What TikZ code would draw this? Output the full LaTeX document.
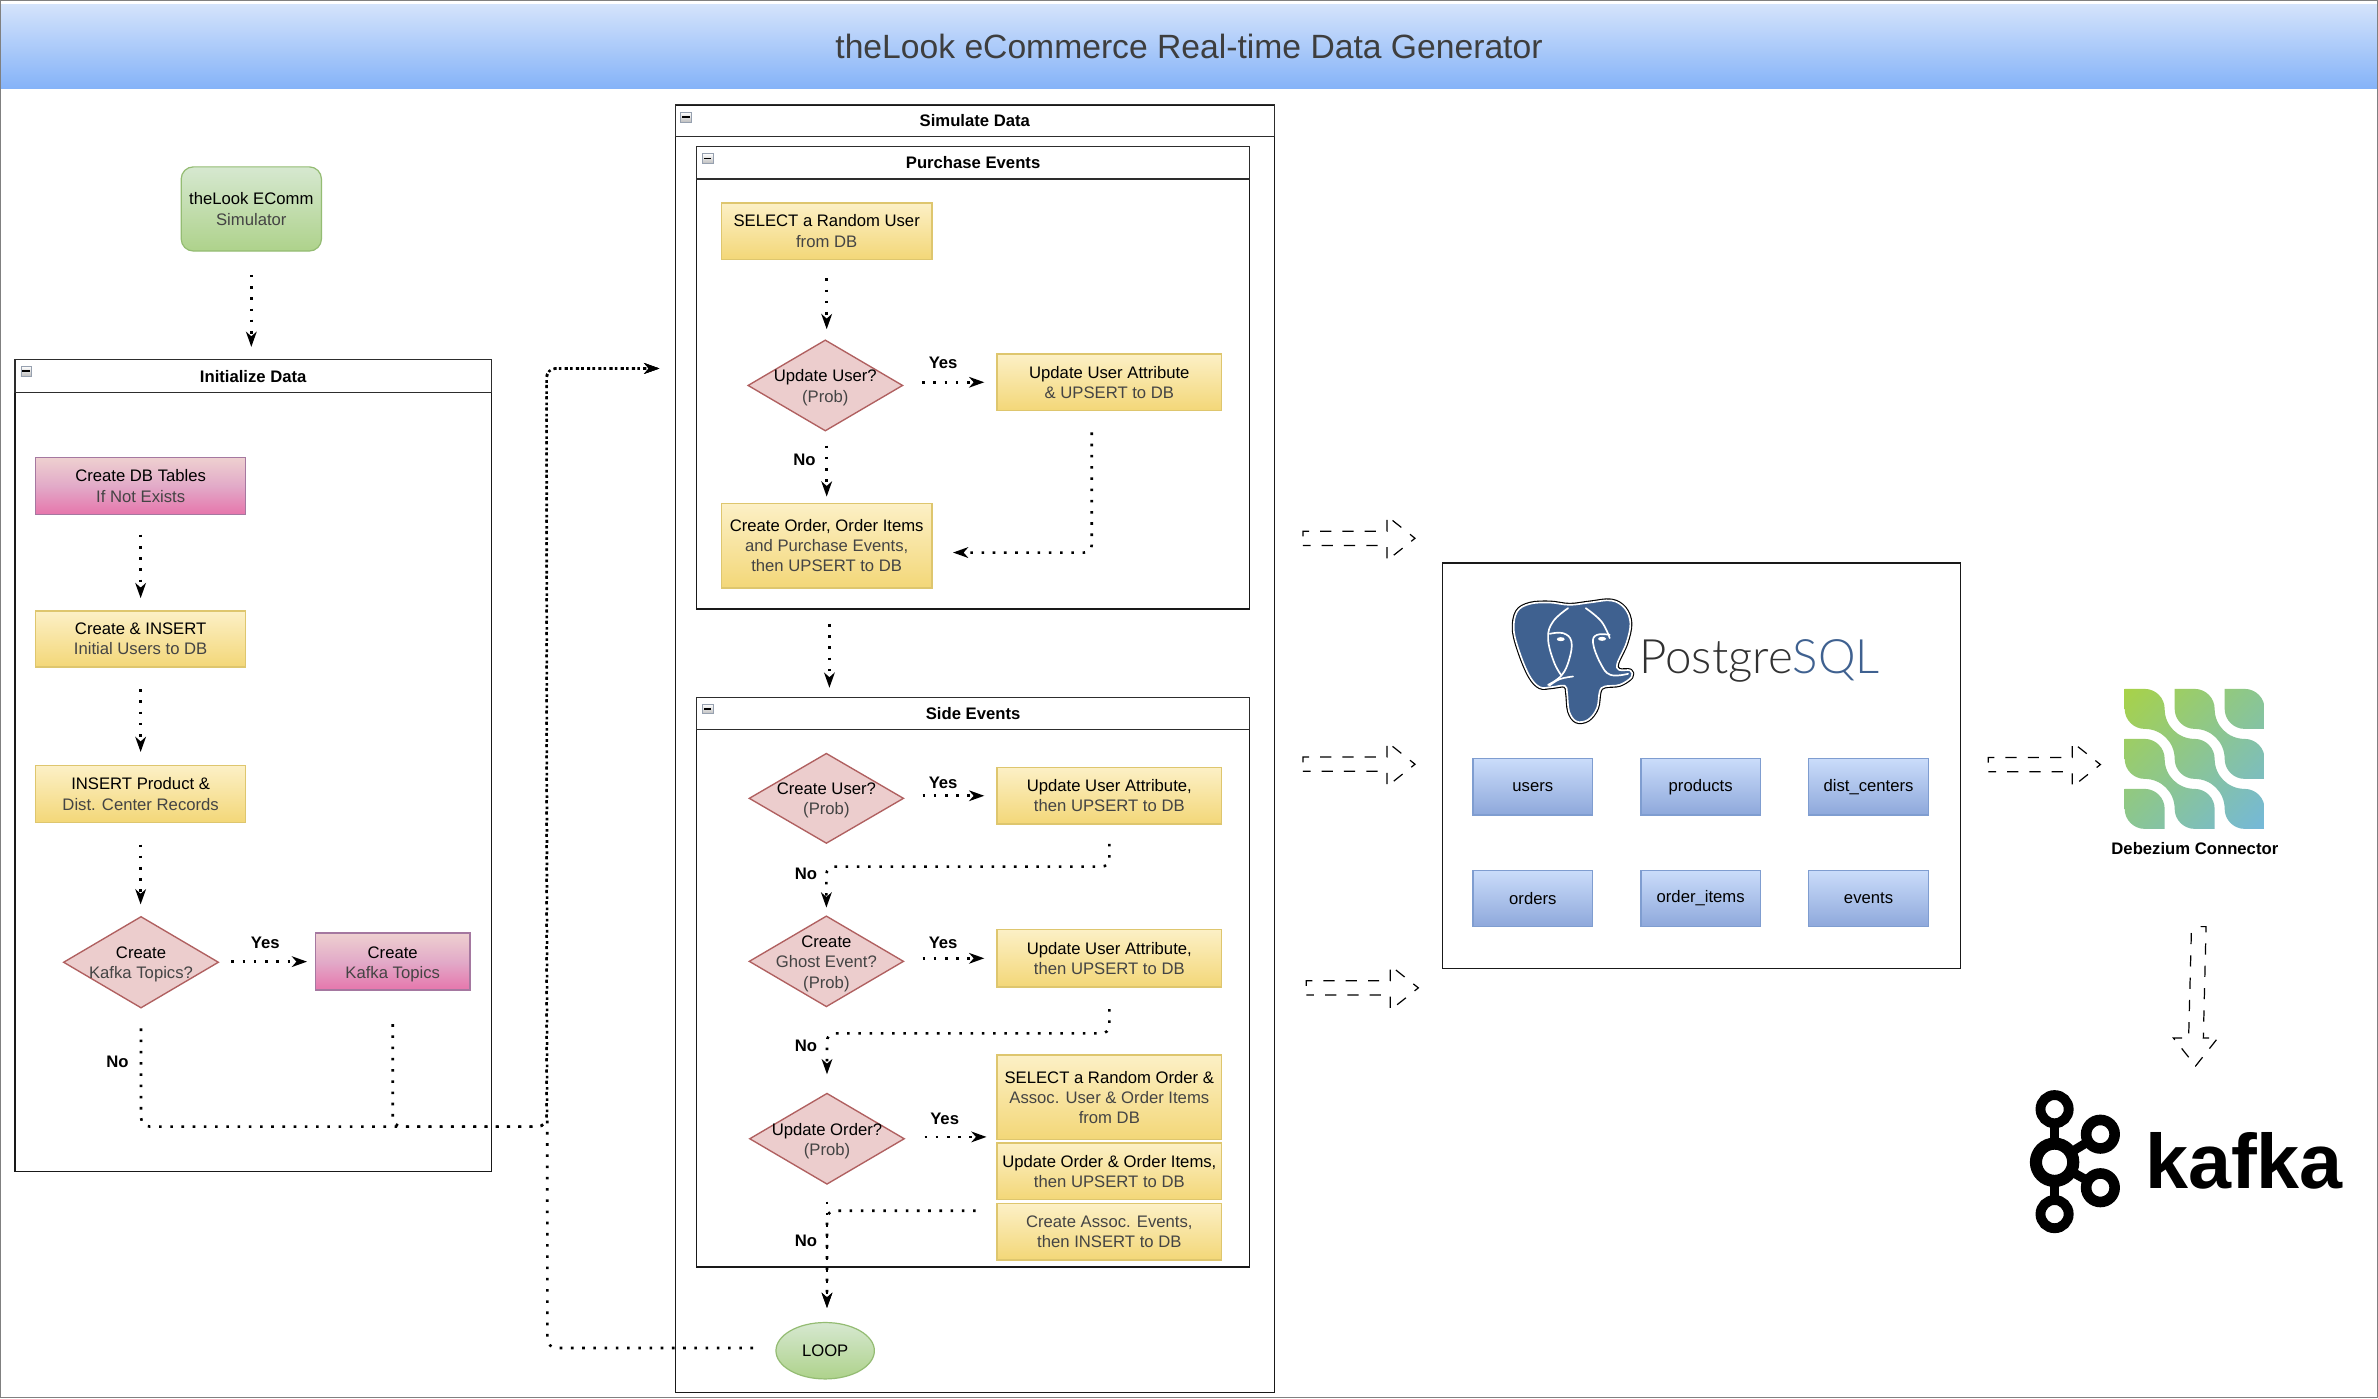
\documentclass[tikz,border=0pt]{standalone}
\usepackage{fontspec}
\setmainfont{Liberation Sans}
\newfontfamily\pglight{Lato Light}
\usetikzlibrary{arrows.meta,shapes.geometric,calc,shadings}
\definecolor{txtgr}{HTML}{444444}
\definecolor{pgblue}{HTML}{3F6190}
\definecolor{ydraw}{HTML}{DEC66E}
\definecolor{ytop}{HTML}{FCF0C6}
\definecolor{ybot}{HTML}{F3D778}
\definecolor{pdraw}{HTML}{A578A0}
\definecolor{ptop}{HTML}{EED0D0}
\definecolor{pmid}{HTML}{E2AAC8}
\definecolor{pbot}{HTML}{E676AC}
\definecolor{bdraw}{HTML}{7F9DD0}
\definecolor{btop}{HTML}{CADCFA}
\definecolor{bbot}{HTML}{8EA8DB}
\definecolor{gdraw}{HTML}{94BC73}
\definecolor{gtop}{HTML}{D6E8D0}
\definecolor{gbot}{HTML}{AED28B}
\definecolor{ddraw}{HTML}{B06060}
\definecolor{dfill}{HTML}{ECCDCD}
\definecolor{ldraw}{HTML}{191919}
\definecolor{hdraw}{HTML}{2D2D2D}
\definecolor{cdraw}{HTML}{96A0AF}
\definecolor{cbot}{HTML}{BEBEBE}
\definecolor{titletop}{HTML}{D4E3FB}
\definecolor{titlebot}{HTML}{85B3F8}
\definecolor{titletxt}{HTML}{3E3E3E}
\definecolor{pgtxt}{HTML}{323232}
\definecolor{dbul}{HTML}{A8D248}
\definecolor{dbmid}{HTML}{8AC692}
\definecolor{dblr}{HTML}{74B8DA}
\newcommand{\secl}[1]{\textcolor{txtgr}{#1}}
\newcommand{\dt}[1]{\raisebox{-.4em}[0pt][0pt]{\makebox[0pt]{\begin{tabular}{@{}c@{}}#1\end{tabular}}}}
\newcommand{\ha}[2]{\draw[holarrow] (#1,#2) -- ++(0,-9.4) -- ++(55.4,0) -- ++(0,-10) -- ++(18.5,14.7) -- ++(-18.5,14.7) -- ++(0,-10) -- cycle;}
\newcommand{\leafTR}{.. controls +(33,0) and +(0,-33) .. ++(60,60)}
\newcommand{\leafBL}{.. controls +(-33,0) and +(0,33) .. ++(-60,-60)}
\newcommand{\bandD}{.. controls +(0,50) and +(-50,0) .. ++(90,90)}
\newcommand{\bandU}{.. controls +(0,-50) and +(50,0) .. ++(-90,-90)}
\tikzset{
  every node/.style={font=\fontsize{11}{13.3}\selectfont,inner sep=0pt,align=center},
  yb/.style={draw=ydraw,line width=1pt,top color=ytop,bottom color=ybot},
  pb/.style={draw=pdraw,line width=1pt,top color=ptop,bottom color=pbot,middle color=pmid},
  bb/.style={draw=bdraw,line width=1pt,top color=btop,bottom color=bbot},
  gb/.style={draw=gdraw,line width=.8pt,top color=gtop,bottom color=gbot},
  dia/.style={diamond,draw=ddraw,line width=.9pt,fill=dfill},
  lane/.style={draw=ldraw,line width=.9pt},
  laneh/.style={draw=hdraw,line width=.9pt,font=\fontsize{11}{13.3}\selectfont\bfseries},
  coll/.style={draw=cdraw,line width=.5pt,top color=white,bottom color=cbot,minimum width=6.8pt,minimum height=6.5pt,
     path picture={\draw[black,line width=1pt] ([xshift=1pt]path picture bounding box.west) -- ([xshift=-1pt]path picture bounding box.east);}},
  lbl/.style={font=\fontsize{11}{13.3}\selectfont\bfseries},
  dotline/.style={black,line width=1.7pt,dash pattern=on 1.7pt off 5.7pt},
  flow/.style={dotline,-{Stealth[length=10pt,width=7pt,inset=3pt]}},
  holarrow/.style={black,line width=.8pt,dash pattern=on 7.4pt off 7.3pt,dash phase=8.7pt}
}
\begin{document}
\begin{tikzpicture}[x=1pt,y=-1pt]
\useasboundingbox (0,0) rectangle (1568.3,922);
\fill[white] (0,0) rectangle (1568.3,922);
% title band and page frame
\node[minimum width=1568.3pt,minimum height=55.3pt,top color=titletop,bottom color=titlebot,font=\fontsize{22.2}{26}\selectfont,text=titletxt] (title) at (784.15,30.4) {theLook eCommerce Real-time Data Generator};
\draw[gray,line width=.8pt] (.4,.4) rectangle (1567.9,921.5);

% --- Simulator and Initialize Data
\node[gb,rounded corners=8pt,minimum width=92.5pt,minimum height=55.5pt] (sim) at (165.75,137.8) {theLook EComm\\\secl{Simulator}};
\node[lane,minimum width=314pt,minimum height=535.5pt] (init) at (167,505) {};
\node[laneh,minimum width=314pt,minimum height=21.5pt] (inith) at (167,248) {Initialize Data};
\node[coll] (initc) at (17.2,244.8) {};
\node[pb,minimum width=138.5pt,minimum height=37.3pt] (cdb) at (92.75,320.5) {Create DB Tables\\\secl{If Not Exists}};
\node[yb,minimum width=138.5pt,minimum height=37pt] (cin) at (92.75,421.5) {Create \& INSERT\\\secl{Initial Users to DB}};
\node[yb,minimum width=138.5pt,minimum height=37.5pt] (ipr) at (92.75,523.7) {INSERT Product \&\\\secl{Dist. Center Records}};
\node[dia,minimum width=102.4pt,minimum height=60.4pt] (kd) at (93,634.6) {\dt{Create\\\secl{Kafka Topics?}}};
\node[pb,minimum width=102pt,minimum height=37.5pt] (kb) at (259,634.2) {\dt{Create\\\secl{Kafka Topics}}};
\node[lbl] (ykd) at (175,622) {Yes};
\node[lbl] (nkd) at (77.5,700) {No};

% --- Simulate Data
\node[lane,minimum width=395.2pt,minimum height=849.3pt] (simu) at (642.9,493.8) {};
\node[laneh,minimum width=395.2pt,minimum height=21pt] (simuh) at (642.9,79.6) {Simulate Data};
\node[coll] (simuc) at (452.4,77.2) {};

% --- Purchase Events
\node[lane,minimum width=364.9pt,minimum height=304.9pt] (pe) at (641.75,249.2) {};
\node[laneh,minimum width=364.9pt,minimum height=21.3pt] (peh) at (641.75,107.4) {Purchase Events};
\node[coll] (pec) at (466.8,104.5) {};
\node[yb,minimum width=139pt,minimum height=37.3pt] (sel) at (545.2,152.4) {SELECT a Random User\\\secl{from DB}};
\node[dia,minimum width=102.2pt,minimum height=60.1pt] (du) at (544.3,254.2) {\dt{Update User?\\\secl{(Prob)}}};
\node[yb,minimum width=147.9pt,minimum height=37.4pt] (ua) at (731.6,252.1) {Update User Attribute\\\secl{\& UPSERT to DB}};
\node[yb,minimum width=139pt,minimum height=55.8pt] (co) at (545.2,359.9) {Create Order, Order Items\\\secl{and Purchase Events,}\\\secl{then UPSERT to DB}};
\node[lbl] (yu) at (622,239) {Yes};
\node[lbl] (nu) at (530.5,303) {No};

% --- Side Events
\node[lane,minimum width=364.9pt,minimum height=375.5pt] (se) at (641.75,647.8) {};
\node[laneh,minimum width=364.9pt,minimum height=21.3pt] (seh) at (641.75,470.6) {Side Events};
\node[coll] (sec) at (466.8,467.5) {};
\node[dia,minimum width=102pt,minimum height=59.5pt] (dc) at (545,526.5) {\dt{Create User?\\\secl{(Prob)}}};
\node[yb,minimum width=147.9pt,minimum height=37.5pt] (ub) at (731.6,524.8) {Update User Attribute,\\\secl{then UPSERT to DB}};
\node[dia,minimum width=102pt,minimum height=60pt] (dg) at (545,634) {\dt{Create\\\secl{Ghost Event?}\\\secl{(Prob)}}};
\node[yb,minimum width=147.9pt,minimum height=38pt] (ug) at (731.6,632) {Update User Attribute,\\\secl{then UPSERT to DB}};
\node[dia,minimum width=102.2pt,minimum height=60.1pt] (dor) at (545.4,751) {\dt{Update Order?\\\secl{(Prob)}}};
\node[yb,minimum width=147.9pt,minimum height=55.7pt] (uoa) at (731.6,723.6) {SELECT a Random Order \&\\\secl{Assoc. User \& Order Items}\\\secl{from DB}};
\node[yb,minimum width=147.9pt,minimum height=37.2pt] (uob) at (731.6,772.4) {Update Order \& Order Items,\\\secl{then UPSERT to DB}};
\node[yb,minimum width=147.9pt,minimum height=37pt] (uoc) at (731.6,812.3) {\secl{Create Assoc. Events,}\\\secl{then INSERT to DB}};
\node[gb,ellipse,minimum width=64.9pt,minimum height=37.2pt] (loop) at (544.2,890.8) {LOOP};
\node[lbl] (yc) at (622,516) {Yes};
\node[lbl] (ng) at (531.5,576.5) {No};
\node[lbl] (yg) at (622,622) {Yes};
\node[lbl] (no) at (531.5,690) {No};
\node[lbl] (yo) at (623,738) {Yes};
\node[lbl] (nl) at (531.5,818) {No};

% --- connectors: initialise
\draw[flow,shorten <=15.3pt,shorten >=8pt] (sim.south) -- (sim.south |- init.north);
\draw[flow,shorten <=13pt,shorten >=8pt] (cdb.south) -- (cin.north);
\draw[flow,shorten <=14pt,shorten >=8.5pt] (cin.south) -- (ipr.north);
\draw[flow,shorten <=14pt,shorten >=7.5pt] (ipr.south) -- (ipr.south |- kd.north);
\draw[flow,shorten <=8pt,shorten >=5pt] (kd.east |- kb.west) -- (kb.west);
\coordinate (busturn) at (360.5,743);
\coordinate (buslift) at (360.5,243);
\draw[flow,rounded corners=6pt,shorten <=13pt,shorten >=10pt] (kd.south) |- (busturn) -- (buslift) -- (simu.west |- buslift);
\draw[flow,rounded corners=6pt,shorten <=22pt,shorten >=10pt] (kb.south) |- (busturn) -- (buslift) -- (simu.west |- buslift);
\coordinate (loopturn) at (361,889);
\draw[flow,rounded corners=6pt,shorten <=14.7pt,shorten >=10pt] ([yshift=1.8pt]loop.west) -- (loopturn) -- (buslift) -- (simu.west |- buslift);

% --- connectors: purchase events
\draw[flow,shorten <=12pt,shorten >=6.6pt] (sel.south) -- (sel.south |- du.north);
\draw[flow,shorten <=12.3pt,shorten >=8pt] (du.east |- ua.west) -- (ua.west);
\draw[flow,shorten <=9.2pt,shorten >=4pt] (du.south -| co.north) -- (co.north);
\draw[flow,rounded corners=5pt,shorten <=13.9pt,shorten >=13.3pt] ([xshift=-11.6pt]ua.south) |- ([yshift=-4.5pt]co.east);
\draw[flow,shorten <=9.4pt,shorten >=6pt] ([xshift=1.8pt]co.south |- pe.south) -- ([xshift=1.8pt]co.south |- se.north);

% --- connectors: side events
\draw[flow,shorten <=12pt,shorten >=8pt] (dc.east |- ub.west) -- (ub.west);
\draw[flow,rounded corners=5pt,shorten <=12.5pt,shorten >=5pt] (ub.south) -- ++(0,27.5) -| (dg.north);
\draw[flow,shorten <=12pt,shorten >=8pt] (dg.east |- ug.west) -- (ug.west);
\draw[flow,rounded corners=5pt,shorten <=14pt,shorten >=12pt] (ug.south) -- ++(0,30) -| (dor.north);
\draw[flow,shorten <=12.8pt,shorten >=6.5pt] ([yshift=1.2pt]dor.east) -- ([yshift=1.2pt]uoa.west |- dor.east);
\draw[flow,shorten <=11pt,shorten >=9.2pt] (dor.south) -- (dor.south |- loop.north);
\draw[flow,rounded corners=5pt,shorten <=13.7pt,shorten >=9.2pt] ([yshift=13.8pt]uoc.west) -| (dor.south |- loop.north);

% --- hollow dashed arrows
\ha{859.3}{359.7}
\ha{859.3}{508.7}
\ha{861.5}{656.2}
\ha{1311.3}{508.9}
\draw[holarrow] (1445.3,611.1) -- (1454.9,611.1) -- (1453.1,684.5) -- (1462.7,684.5) -- (1448,703) -- (1433.3,684.5) -- (1443.4,684.5) -- cycle;

% --- PostgreSQL box
\node[lane,minimum width=341.7pt,minimum height=267.4pt] (pg) at (1122,505) {};
\node[bb,minimum width=79pt,minimum height=37.1pt] (tusers) at (1010.9,518.9) {users};
\node[bb,minimum width=79pt,minimum height=37.1pt] (tprod) at (1121.6,518.9) {products};
\node[bb,minimum width=79pt,minimum height=37.1pt] (tdist) at (1232.3,518.9) {dist\_centers};
\node[bb,minimum width=79pt,minimum height=37.1pt] (tord) at (1010.9,592.6) {orders};
\node[bb,minimum width=79pt,minimum height=37.1pt] (titem) at (1121.6,592.6) {order\_items};
\node[bb,minimum width=79pt,minimum height=37.1pt] (tev) at (1232.3,592.6) {events};
% elephant
\begin{scope}[shift={(975.9,382.4)},x=.2198pt,y=-.2198pt]
  \def\elephant{plot[smooth cycle,tension=.6] coordinates {(270,75)(330,68)(395,62)(435,85)(452,130)(440,190)(413,250)(418,270)(452,272)(455,292)(420,315)(375,320)(360,335)(352,385)(325,420)(290,425)(268,395)(262,340)(255,318)(215,322)(180,322)(150,290)(120,220)(102,150)(112,95)(150,72)(210,68)}}
  \draw[black,line width=2.6pt,line join=round] \elephant;
  \draw[white,line width=1.1pt,fill=pgblue,line join=round] \elephant;
  \begin{scope}[white,line width=1.1pt,line cap=round]
    \draw plot[smooth,tension=.7] coordinates {(265,85)(220,125)(205,175)(222,245)(245,287)};
    \draw plot[smooth,tension=.7] coordinates {(210,162)(250,160)(275,185)(268,240)(245,287)(205,315)};
    \draw plot[smooth,tension=.7] coordinates {(318,85)(365,125)(390,175)};
    \draw plot[smooth,tension=.7] coordinates {(390,165)(352,165)(340,190)(362,250)(392,285)(445,282)};
    \draw plot[smooth,tension=.7] coordinates {(208,318)(240,298)(280,290)};
    \fill (243,178) ellipse (12 and 6);
    \fill (367,177) ellipse (12 and 6);
  \end{scope}
\end{scope}
\node[anchor=base west,font=\fontsize{31.3}{32}\selectfont\pglight,text=pgtxt] (pgtext) at (1081,444.3) {Postgre\textcolor{pgblue}{SQL}};

% --- Debezium logo
\begin{scope}[shift={(1305.6,435.2)},x=.2198pt,y=-.2198pt]
  \begin{scope}
    \clip (435,87) -- ++(60,0) \leafTR \bandD \leafTR \bandD \leafTR -- ++(0,60) -- ++(-60,0) \leafBL \bandU \leafBL \bandU \leafBL -- cycle
      (585,87) -- ++(60,0) \leafTR \bandD \leafTR -- ++(0,60) -- ++(-60,0) \leafBL \bandU \leafBL -- cycle
      (435,237) -- ++(60,0) \leafTR \bandD \leafTR -- ++(0,60) -- ++(-60,0) \leafBL \bandU \leafBL -- cycle
      (735,87) -- ++(60,0) \leafTR -- ++(0,60) -- ++(-60,0) \leafBL -- cycle
      (435,387) -- ++(60,0) \leafTR -- ++(0,60) -- ++(-60,0) \leafBL -- cycle;
    \shade[upper left=dbul,upper right=dbmid,lower left=dbmid,lower right=dblr] (435,87) rectangle (855,507);
  \end{scope}
\end{scope}
\node[lbl] (dbz) at (1447.5,559.5) {Debezium Connector};

% --- Kafka logo
\begin{scope}[black]
  \draw[line width=6pt] (1355,731.5) -- (1355,800.7);
  \draw[line width=6pt] (1355,766.5) -- (1385.2,748);
  \draw[line width=6pt] (1355,766.5) -- (1385.2,783.3);
  \draw[line width=6.5pt,fill=white] (1355,731.5) circle (9.3);
  \draw[line width=6.5pt,fill=white] (1355,800.7) circle (9.3);
  \draw[line width=7pt,fill=white] (1385.2,748) circle (9.4);
  \draw[line width=7pt,fill=white] (1385.2,783.3) circle (9.4);
  \draw[line width=8pt,fill=white] (1355,766.5) circle (12.3);
\end{scope}
\node[anchor=base west,font=\fontsize{51}{53}\selectfont\bfseries] (kafkat) at (1414.5,784) {kafka};
\end{tikzpicture}
\end{document}
